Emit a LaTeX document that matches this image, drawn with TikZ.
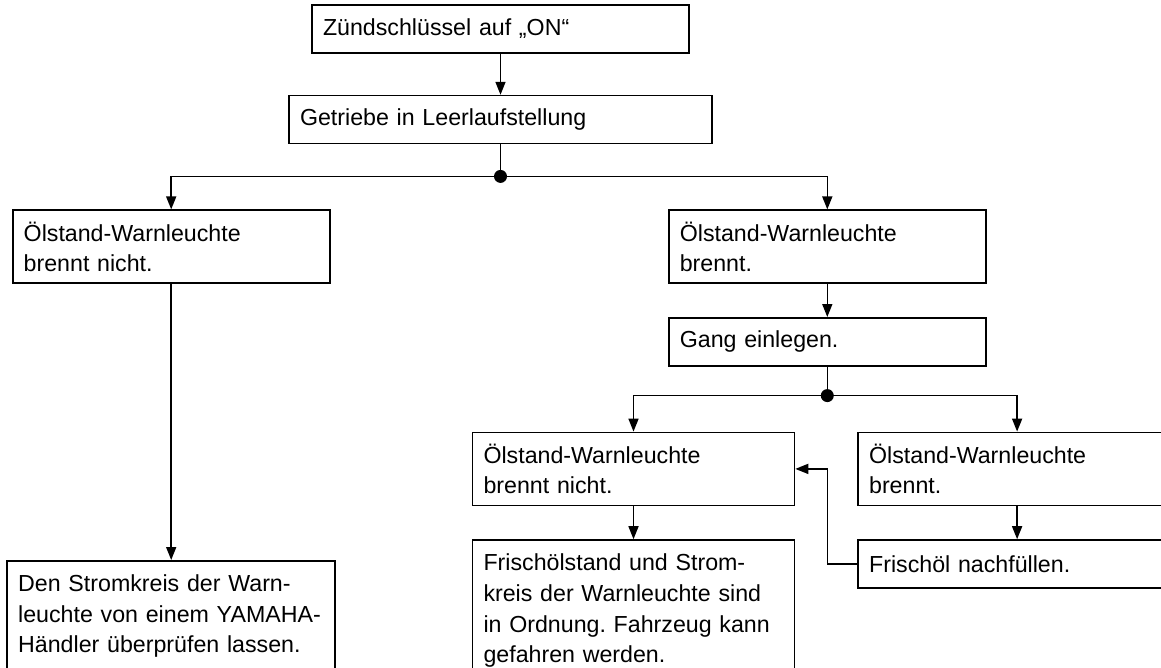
\documentclass[tikz,border=0pt]{standalone}
\usepackage{fontspec}
\setmainfont{Liberation Sans}
\usetikzlibrary{arrows.meta,positioning}

\begin{document}
\begin{tikzpicture}[x=1pt,y=-1pt,->,>={Triangle[length=13pt,width=10pt]},line width=1.6pt]
\tikzstyle{box}=[draw,shape=rectangle,inner xsep=11pt,inner ysep=0pt,align=left,font=\fontsize{23.2}{30.6}\selectfont\frenchspacing]
\tikzstyle{einzeilig}=[box,minimum height=48pt]
\tikzstyle{zweizeilig}=[box,minimum height=73pt]
\tikzstyle{offen}=[box,inner ysep=14pt]

\useasboundingbox (0,0) rectangle (1161,667);

\node[einzeilig]  (zuend) at (500.5,29) [text width=355pt] {Zündschlüssel auf „ON“};
\node[einzeilig]  (getriebe) [below=41pt of zuend,text width=401pt] {Getriebe in Leerlaufstellung};
\coordinate[below=32pt of getriebe] (verz1);
\node[zweizeilig] (links) [below left=33pt and 170pt of verz1,text width=295pt] {Ölstand-Warnleuchte\\brennt nicht.};
\node[zweizeilig] (rechts) [below right=33pt and 167.5pt of verz1,text width=295pt] {Ölstand-Warnleuchte\\brennt.};
\node[einzeilig]  (gang) [below=33pt of rechts,text width=295pt] {Gang einlegen.};
\coordinate[below=29pt of gang] (verz2);
\node[zweizeilig] (mitte) [below left=36pt and 32pt of verz2,text width=300pt] {Ölstand-Warnleuchte\\brennt nicht.};
\node[zweizeilig] (rechts2) [below right=36pt and 30pt of verz2,text width=296pt] {Ölstand-Warnleuchte\\brennt.};
\node[einzeilig]  (nachfuellen) [below=33pt of rechts2,text width=296pt] {Frischöl nachfüllen.};
\node[offen]      (ok) [below=33pt of mitte,text width=300pt] {Frischölstand und Strom-\\kreis der Warnleuchte sind\\in Ordnung. Fahrzeug kann\\gefahren werden.};
\node[offen]      (haendler) [below=276pt of links,text width=306pt] {Den Stromkreis der Warn-\\leuchte von einem YAMAHA-\\Händler überprüfen lassen.};

\path
(zuend) edge (getriebe)
(getriebe) edge[-] (verz1)
(rechts) edge (gang)
(gang) edge[-] (verz2)
(rechts2) edge (nachfuellen)
(mitte) edge (ok)
(links) edge (haendler);
\draw (verz1) -| (links);
\draw (verz1) -| (rechts);
\draw (verz2) -| (mitte);
\draw (verz2) -| (rechts2);
\draw (nachfuellen.west) -| (verz2 |- mitte.east) -- (mitte.east);
\fill[-] (verz1) circle (6.5pt);
\fill[-] (verz2) circle (6.5pt);
\end{tikzpicture}
\end{document}
